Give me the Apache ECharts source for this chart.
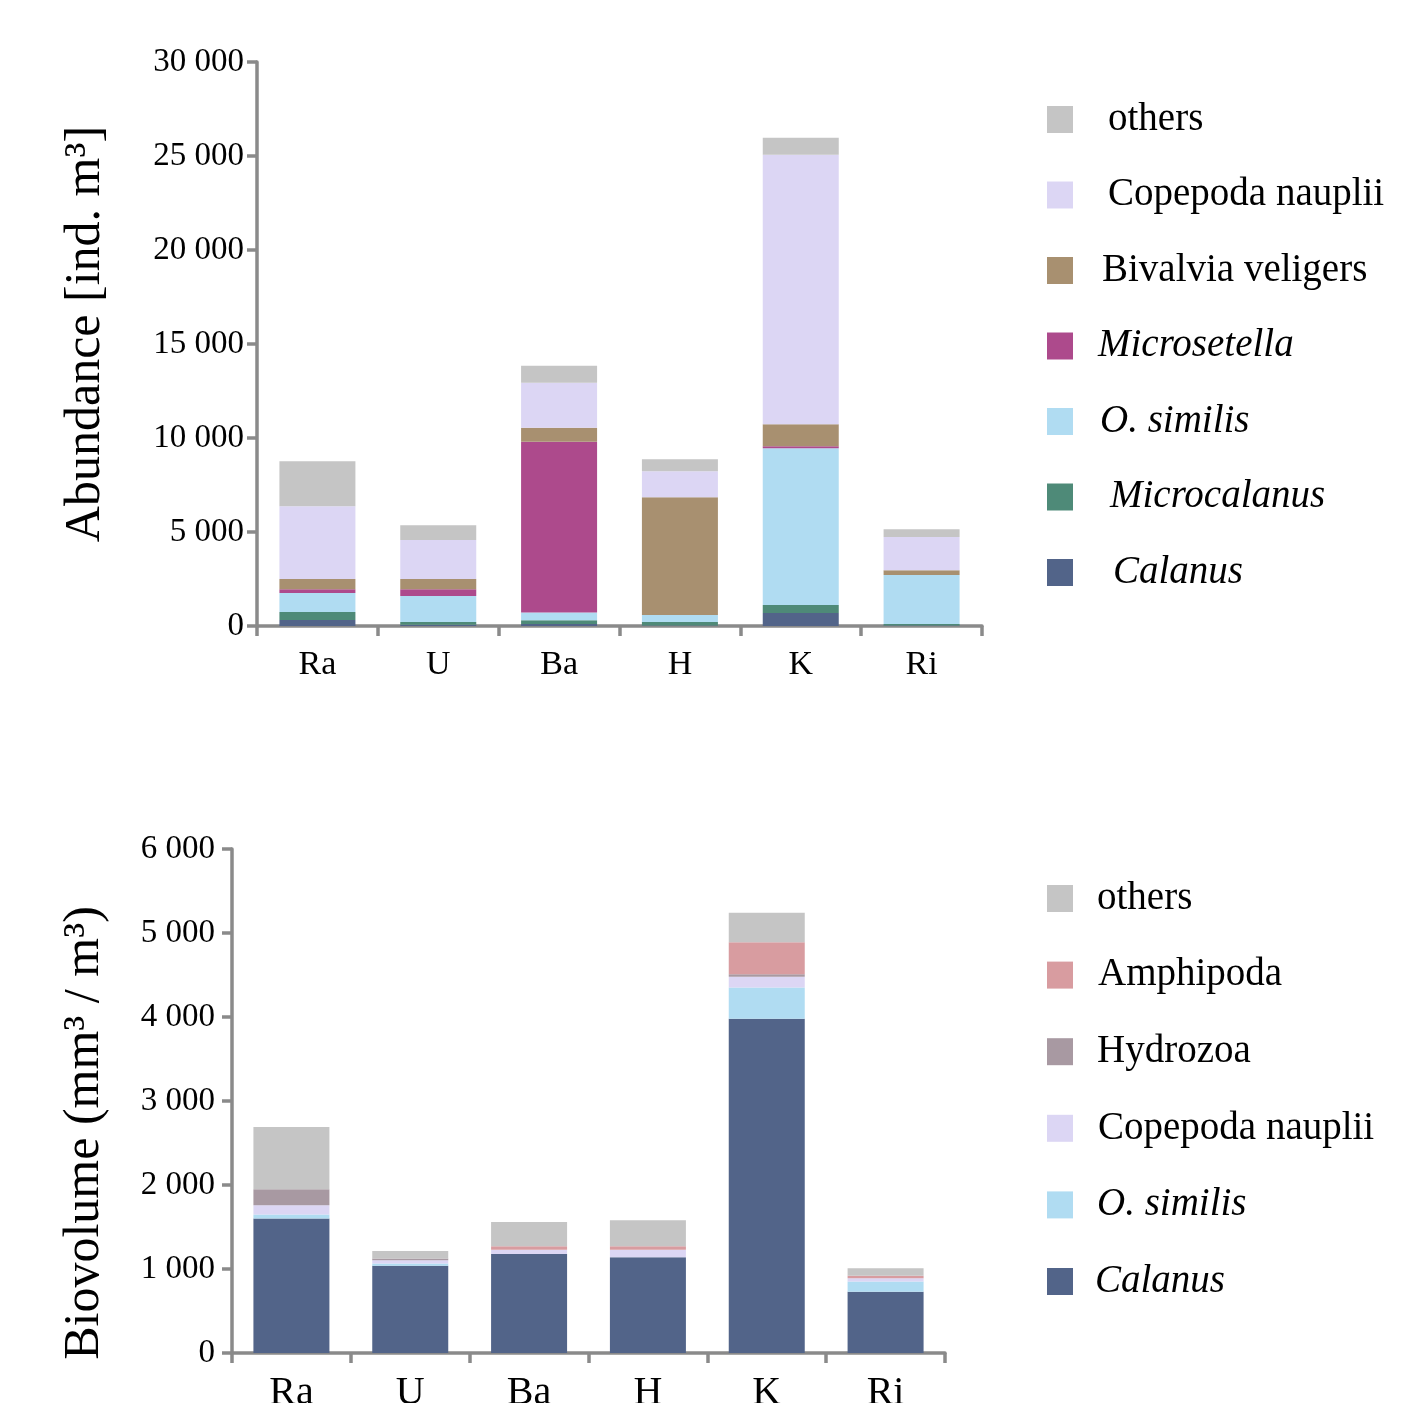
<!DOCTYPE html>
<html>
<head>
<meta charset="utf-8">
<script src="https://cdn.jsdelivr.net/npm/echarts@6/dist/echarts.min.js"></script>
<style>
html,body{margin:0;padding:0;background:#fff;}
#c{width:1405px;height:1403px;}
</style>
</head>
<body>
<div id="c"></div>
<script>
// ---------- data ----------
const categories = ['Ra', 'U', 'Ba', 'H', 'K', 'Ri'];

// Abundance [ind. m^3]
const calanusA      = [320, 60, 100, 30, 690, 30];
const microcalanusA = [420, 150, 200, 180, 430, 80];
const osimilisA     = [1010, 1380, 420, 370, 8330, 2600];
const microsetellaA = [210, 370, 9080, 0, 110, 0];
const bivalviaA     = [540, 540, 750, 6270, 1170, 260];
const naupliiA      = [3870, 2070, 2390, 1380, 14340, 1760];
const othersA       = [2390, 790, 900, 640, 900, 420];

// Biovolume (mm^3 / m^3)
const calanusB   = [1600, 1040, 1180, 1140, 3980, 730];
const osimilisB  = [50, 25, 0, 0, 370, 120];
const naupliiB   = [110, 40, 50, 90, 130, 40];
const hydrozoaB  = [190, 20, 0, 0, 30, 0];
const amphipodaB = [0, 0, 40, 40, 380, 30];
const othersB    = [740, 90, 290, 310, 350, 90];

const yTicksA = [0, 5000, 10000, 15000, 20000, 25000, 30000];
const yTicksB = [0, 1000, 2000, 3000, 4000, 5000, 6000];

// ---------- styles ----------
const FONT = 'Liberation Serif';
const colors = {
  'others': '#c5c5c5',
  'Copepoda nauplii': '#dcd6f4',
  'Bivalvia veligers': '#a89070',
  'Microsetella': '#ad4a8c',
  'O. similis': '#b0dcf2',
  'Microcalanus': '#4e8a78',
  'Calanus': '#526489',
  'Hydrozoa': '#a899a2',
  'Amphipoda': '#d89ca0'
};
const italic = {'Microsetella':1, 'O. similis':1, 'Microcalanus':1, 'Calanus':1};
const AXC = '#8a8a8a';

function fmt(v){ return String(v).replace(/\B(?=(\d{3})+(?!\d))/g, ' '); }

function bar(name, data, idx){
  return {
    name: name, type: 'bar', stack: 's' + idx, data: data,
    xAxisIndex: idx, yAxisIndex: idx, barWidth: 76,
    itemStyle: {color: colors[name]},
    emphasis: {disabled: true}
  };
}

function xAx(idx, fs, margin){
  return {
    type: 'category', gridIndex: idx, data: categories,
    axisLine: {lineStyle: {color: AXC, width: 3.5}},
    axisTick: {show: true, length: 10, lineStyle: {color: AXC, width: 3.5}},
    axisLabel: {fontFamily: FONT, fontSize: fs, color: '#000', margin: margin},
    splitLine: {show: false}
  };
}
function yAx(idx, max, interval, name, nameGap, margin, pad){
  return {
    type: 'value', gridIndex: idx, min: 0, max: max, interval: interval,
    name: name, nameLocation: 'middle', nameRotate: 90, nameGap: nameGap,
    nameTextStyle: {fontFamily: FONT, fontSize: 50, color: '#000', padding: pad},
    axisLine: {show: true, lineStyle: {color: AXC, width: 3.5}},
    axisTick: {show: true, length: 10, lineStyle: {color: AXC, width: 3.5}},
    axisLabel: {fontFamily: FONT, fontSize: 33, color: '#000', margin: margin, formatter: fmt},
    splitLine: {show: false}
  };
}

function legend(idx, names, top, gap, offsets){
  const rich = {};
  names.forEach((n, i) => {
    rich['k' + i] = {fontFamily: FONT, fontSize: 39, color: '#000',
      fontStyle: italic[n] ? 'italic' : 'normal', padding: [0, 0, 0, offsets[i]]};
  });
  return {
    orient: 'vertical', left: 1047, top: top, padding: 0,
    itemWidth: 26, itemHeight: 27,
    itemGap: gap, icon: 'rect', selectedMode: false,
    data: names.map(n => ({name: n, itemStyle: {color: colors[n]}})),
    textStyle: {rich: rich},
    formatter: function(n){ const i = names.indexOf(n); return '{k' + i + '|' + n + '}'; }
  };
}

const namesA = ['others', 'Copepoda nauplii', 'Bivalvia veligers', 'Microsetella', 'O. similis', 'Microcalanus', 'Calanus'];
const namesB = ['others', 'Amphipoda', 'Hydrozoa', 'Copepoda nauplii', 'O. similis', 'Calanus'];

const option = {
  animation: false,
  backgroundColor: '#fff',
  grid: [
    {left: 257, top: 62, width: 725, height: 564, outerBoundsMode: 'none', containLabel: false},
    {left: 232, top: 849, width: 713, height: 504, outerBoundsMode: 'none', containLabel: false}
  ],
  xAxis: [xAx(0, 34, 22), xAx(1, 40, 20)],
  yAxis: [
    yAx(0, 30000, 5000, 'Abundance [ind. m³]', 146, 13, [0, 0, 0, 20]),
    yAx(1, 6000, 1000, 'Biovolume (mm³ / m³)', 122, 17, [0, 64, 0, 0])
  ],
  legend: [
    legend(0, namesA, 100, 36.5, [30, 30, 24, 20, 22, 32, 35]),
    legend(1, namesB, 879, 37.6, [19, 20, 19, 20, 19, 17])
  ],
  series: [
    bar('Calanus', calanusA, 0),
    bar('Microcalanus', microcalanusA, 0),
    bar('O. similis', osimilisA, 0),
    bar('Microsetella', microsetellaA, 0),
    bar('Bivalvia veligers', bivalviaA, 0),
    bar('Copepoda nauplii', naupliiA, 0),
    bar('others', othersA, 0),
    bar('Calanus', calanusB, 1),
    bar('O. similis', osimilisB, 1),
    bar('Copepoda nauplii', naupliiB, 1),
    bar('Hydrozoa', hydrozoaB, 1),
    bar('Amphipoda', amphipodaB, 1),
    bar('others', othersB, 1)
  ]
};

const chart = echarts.init(document.getElementById('c'), null, {renderer: 'canvas'});
chart.setOption(option);
</script>
</body>
</html>
